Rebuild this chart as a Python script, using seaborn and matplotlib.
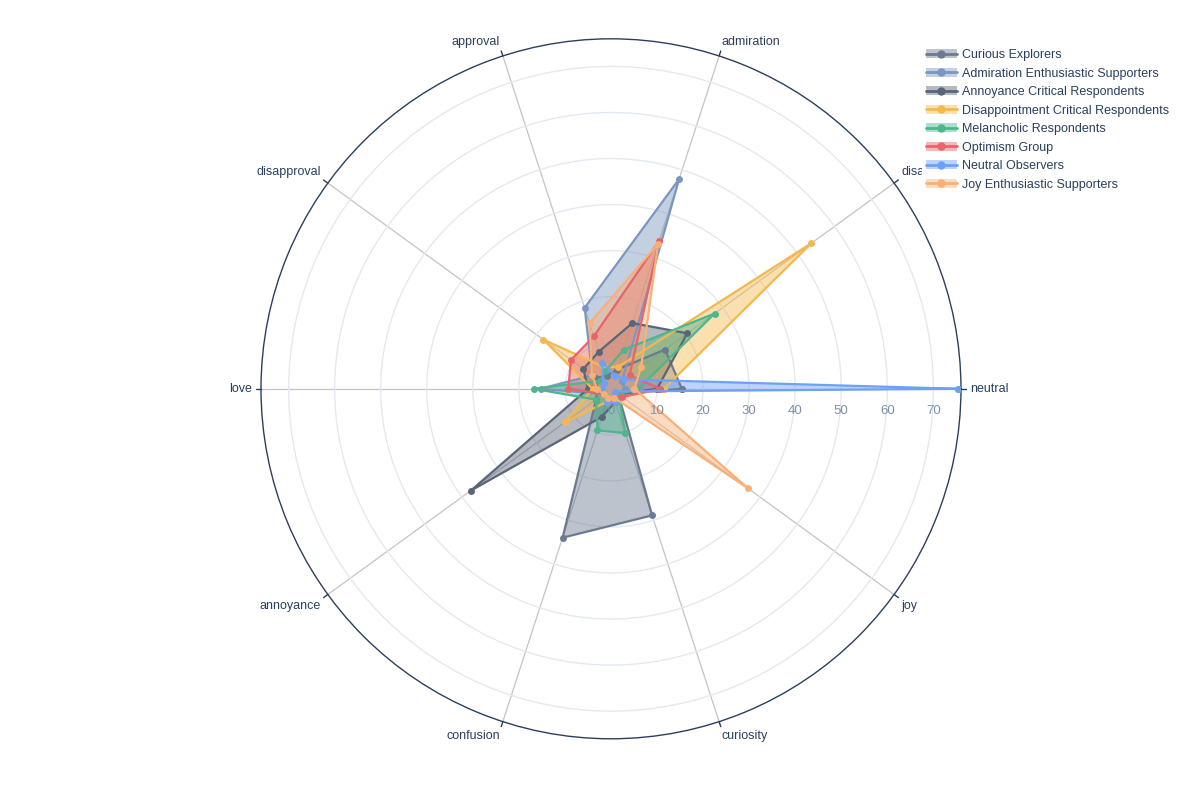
import numpy as np
import pandas as pd
import matplotlib
matplotlib.use("Agg")
import matplotlib.pyplot as plt
import matplotlib.transforms as mtransforms
from matplotlib.lines import Line2D
from matplotlib.patches import Patch
import seaborn as sns

# ===============================
# Data
# ===============================
categories = ["neutral", "disappointment", "admiration", "approval", "disapproval",
              "love", "annoyance", "confusion", "curiosity", "joy"]

groups = ["Curious Explorers", "Admiration Enthusiastic Supporters",
          "Annoyance Critical Respondents", "Disappointment Critical Respondents",
          "Melancholic Respondents", "Optimism Group", "Neutral Observers",
          "Joy Enthusiastic Supporters"]

curious_explorers = [15.4, 14.5, 4.4, 3.0, 4.0, 3.0, 4.0, 34.0, 28.9, 2.0]
admiration_supporters = [3.0, 3.0, 47.9, 18.5, 5.0, 15.3, 2.0, 2.0, 2.0, 2.0]
annoyance_critical = [10.0, 20.5, 15.0, 8.5, 7.4, 5.0, 37.6, 6.4, 3.0, 2.0]
disappointment_critical = [11.5, 53.8, 5.0, 5.0, 18.2, 4.0, 12.3, 3.0, 2.0, 3.0]
melancholic = [6.0, 27.8, 8.9, 4.0, 3.0, 16.8, 4.0, 9.5, 10.1, 2.0]
optimism = [10.7, 5.0, 33.7, 12.0, 10.7, 9.3, 2.0, 2.0, 2.0, 3.0]
neutral_observers = [75.3, 3.5, 3.0, 6.0, 2.0, 2.0, 2.0, 3.0, 3.0, 1.0]
joy_supporters = [5.1, 8.1, 33.0, 15.0, 5.1, 3.0, 2.0, 2.0, 2.0, 36.8]

series_values = [curious_explorers, admiration_supporters, annoyance_critical,
                 disappointment_critical, melancholic, optimism,
                 neutral_observers, joy_supporters]

colors = ["#6c7a91", "#7b97c0", "#5a6578", "#f4b84f",
          "#4db68c", "#e8636a", "#6ea0f5", "#f9b077"]

radial_ticks = [10, 20, 30, 40, 50, 60, 70]
r_max = 76

# ===============================
# Long-form table for seaborn
# ===============================
angles = np.linspace(0, 2 * np.pi, len(categories), endpoint=False)
rows = []
for g, vals in zip(groups, series_values):
    closed_angles = list(angles) + [angles[0] + 2 * np.pi]
    closed_vals = list(vals) + [vals[0]]
    for a, v in zip(closed_angles, closed_vals):
        rows.append({"group": g, "theta": a, "r": v})
df = pd.DataFrame(rows)

# ===============================
# Plot
# ===============================
sns.set_theme(style="white")
plt.rcParams['font.family'] = ['Liberation Sans', 'DejaVu Sans']

fig = plt.figure(figsize=(12, 8), dpi=100)
ax = fig.add_axes([0.2175, 0.0765, 0.5833, 0.875], projection="polar")
ax.set_theta_offset(0)
ax.set_theta_direction(1)

palette = dict(zip(groups, colors))

for g in groups:
    sub = df[df["group"] == g]
    ax.fill(sub["theta"], sub["r"], color=palette[g], alpha=0.45, lw=0, zorder=2)

sns.lineplot(data=df, x="theta", y="r", hue="group", palette=palette,
             sort=False, estimator=None, units="group", marker="o",
             markersize=5, markeredgewidth=0, linewidth=1.6,
             legend=False, ax=ax, zorder=3)

ax.set_ylim(0, r_max)
ax.set_xlabel("")
ax.set_ylabel("")

# grid styling
ax.set_yticks(radial_ticks)
ax.set_yticklabels([])
ax.yaxis.grid(True, color="#e4e9f1", linewidth=1)
ax.set_xticks(angles)
ax.set_xticklabels([])
ax.xaxis.grid(True, color="#c4c4c4", linewidth=0.9)
ax.spines["polar"].set_color("#2a3f5f")
ax.spines["polar"].set_linewidth(1)

# category labels anchored by direction, like the reference
for a, cat in zip(angles, categories):
    c, s = np.cos(a), np.sin(a)
    ha = "left" if c > 0.1 else ("right" if c < -0.1 else "center")
    va = "bottom" if s > 0.1 else ("top" if s < -0.1 else "center")
    ax.text(a, r_max * 1.025, cat, ha=ha, va=va, fontsize=9,
            color="#2a3f5f", zorder=1)

# radial tick labels below the 0-degree line
offset = mtransforms.offset_copy(ax.transData, fig=fig, x=0, y=-16, units="points")
for t in [0] + radial_ticks:
    ax.text(0, t, str(t), transform=offset, ha="center", va="center",
            fontsize=9.5, color="#7f8fa9", zorder=5)

# small outer tick marks at each category
for a in angles:
    ax.plot([a, a], [r_max, r_max * 1.015], color="#2a3f5f", lw=1, clip_on=False)

# legend
handles = []
for g in groups:
    patch = Patch(facecolor=palette[g], alpha=0.45, edgecolor="none")
    line = Line2D([], [], color=palette[g], marker="o", markersize=5, lw=2)
    handles.append((patch, line))
leg = fig.legend(handles, groups, loc="upper left", bbox_to_anchor=(0.763, 0.951),
                 frameon=True, fontsize=9, handlelength=2.5, labelspacing=0.52,
                 borderpad=0.3, handletextpad=0.45)
leg.get_frame().set_facecolor("white")
leg.get_frame().set_edgecolor("none")
leg.get_frame().set_alpha(1)
for txt in leg.get_texts():
    txt.set_color("#2a3f5f")

fig.savefig("out.png", dpi=100, facecolor="white")
